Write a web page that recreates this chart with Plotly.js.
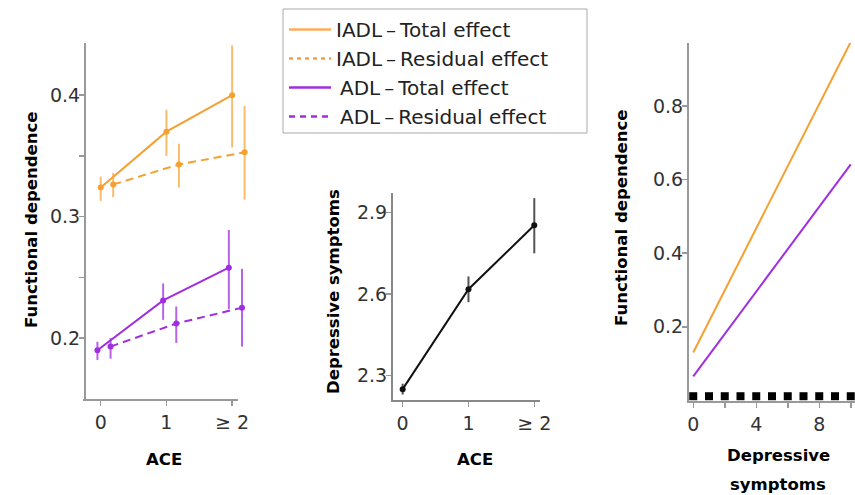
<!DOCTYPE html>
<html>
<head>
<meta charset="utf-8">
<script src="https://cdn.plot.ly/plotly-3.0.1.min.js"></script>
<style>html,body{margin:0;padding:0;background:#fff;}#chart{width:855px;height:495px;}</style>
</head>
<body>
<div id="chart"></div>
<script>
// ---------- DATA ----------
const aceLevels = [0, 1, 2];
const aceLabels = ["0", "1", "\u2265 2"];

const iadlTotal   = [0.324, 0.370, 0.400];
const iadlTotalLo = [0.313, 0.350, 0.357];
const iadlTotalHi = [0.333, 0.388, 0.441];

const iadlResid   = [0.3265, 0.343, 0.353];
const iadlResidLo = [0.316, 0.324, 0.314];
const iadlResidHi = [0.336, 0.360, 0.391];

const adlTotal    = [0.190, 0.231, 0.258];
const adlTotalLo  = [0.182, 0.215, 0.224];
const adlTotalHi  = [0.197, 0.245, 0.289];

const adlResid    = [0.193, 0.212, 0.225];
const adlResidLo  = [0.183, 0.196, 0.193];
const adlResidHi  = [0.200, 0.226, 0.257];

const depSym   = [2.25, 2.618, 2.853];
const depSymLo = [2.23, 2.57, 2.75];
const depSymHi = [2.27, 2.665, 2.953];

const depX       = [0, 10];
const iadlFit    = [0.13, 0.975];
const adlFit     = [0.065, 0.642];
const rugScores  = [0, 1, 2, 3, 4, 5, 6, 7, 8, 9, 10];

const seriesNames = ["IADL\u2009\u2013\u2009Total effect", "IADL\u2009\u2013\u2009Residual effect",
                     "\u2009ADL\u2009\u2013\u2009Total effect", "\u2009ADL\u2009\u2013\u2009Residual effect"];

// ---------- STYLE ----------
const ORANGE = '#F5A030', ORANGE_E = 'rgba(246,165,60,0.75)';
const PURPLE = '#A02EE0', PURPLE_E = 'rgba(160,46,224,0.75)';
const DASH = '8px,5px';
const dodge = {iadlTotal: 0, iadlResid: 0.19, adlTotal: -0.05, adlResid: 0.15};
const W = 855, H = 495;
const px = v => v / W, py = v => 1 - v / H;
const FONT = 'DejaVu Sans, sans-serif';

function errTrace(name, dx, val, lo, hi, color, ecolor, dash, xa, ya) {
  return {
    type: 'scatter', mode: 'lines+markers', name: name, showlegend: false,
    x: aceLevels.map(v => v + dx), y: val,
    xaxis: xa, yaxis: ya,
    line: {color: color, width: 2, dash: dash},
    marker: {color: color, size: 6},
    error_y: {type: 'data', symmetric: false,
      array: hi.map((h, i) => h - val[i]), arrayminus: val.map((v, i) => v - lo[i]),
      color: ecolor, thickness: 2, width: 0}
  };
}
function legendTrace(name, color, dash) {
  return {type: 'scatter', mode: 'lines', name: name, x: [null], y: [null], xaxis: 'x', yaxis: 'y',
    showlegend: true, line: {color: color, width: 2.5, dash: dash}};
}

const traces = [
  errTrace(seriesNames[0], dodge.iadlTotal, iadlTotal, iadlTotalLo, iadlTotalHi, ORANGE, ORANGE_E, 'solid', 'x', 'y'),
  errTrace(seriesNames[1], dodge.iadlResid, iadlResid, iadlResidLo, iadlResidHi, ORANGE, ORANGE_E, DASH, 'x', 'y'),
  errTrace(seriesNames[2], dodge.adlTotal, adlTotal, adlTotalLo, adlTotalHi, PURPLE, PURPLE_E, 'solid', 'x', 'y'),
  errTrace(seriesNames[3], dodge.adlResid, adlResid, adlResidLo, adlResidHi, PURPLE, PURPLE_E, DASH, 'x', 'y'),
  errTrace('Depressive symptoms', 0, depSym, depSymLo, depSymHi, '#111', 'rgba(40,40,40,0.8)', 'solid', 'x2', 'y2'),
  {type: 'scatter', mode: 'lines', x: depX, y: iadlFit, xaxis: 'x3', yaxis: 'y3', showlegend: false,
   name: 'IADL', line: {color: ORANGE, width: 2}},
  {type: 'scatter', mode: 'lines', x: depX, y: adlFit, xaxis: 'x3', yaxis: 'y3', showlegend: false,
   name: 'ADL', line: {color: PURPLE, width: 2}},
  {type: 'scatter', mode: 'markers', x: rugScores, y: rugScores.map(() => 0.011), xaxis: 'x3', yaxis: 'y3',
   showlegend: false, name: 'rug', marker: {symbol: 'square', color: '#000', size: 8}},
  legendTrace(seriesNames[0], '#FDAE5A', 'solid'),
  legendTrace(seriesNames[1], '#F0A040', '4px,4px'),
  legendTrace(seriesNames[2], PURPLE, 'solid'),
  legendTrace(seriesNames[3], PURPLE, '6px,5px')
];

const tickFont = {family: FONT, size: 19, color: '#333'};
const AX = '#999';
const baseY = {showgrid: false, zeroline: false, showline: true, linecolor: AX, linewidth: 2,
  ticks: 'outside', ticklen: 5, tickwidth: 1.5, tickcolor: AX, tickfont: tickFont, ticklabelstandoff: -5};
const baseX = Object.assign({}, baseY, {ticklabelstandoff: 0});

const titleFont = {family: FONT, size: 16.5, color: '#000', weight: 'bold'};
function title(text, x, y, vertical) {
  return {text: text, xref: 'paper', yref: 'paper', x: px(x), y: py(y), xanchor: 'center', yanchor: 'middle',
    textangle: vertical ? -90 : 0, showarrow: false, font: titleFont};
}

const layout = {
  width: W, height: H, margin: {l: 0, r: 0, t: 0, b: 0},
  paper_bgcolor: '#fff', plot_bgcolor: 'rgba(0,0,0,0)',
  showlegend: true,
  legend: {x: px(284), y: py(10), xanchor: 'left', yanchor: 'top', itemwidth: 42,
    borderwidth: 0, bgcolor: 'rgba(0,0,0,0)', tracegroupgap: 0,
    font: {family: FONT, size: 20, color: '#222'}},
  xaxis: Object.assign({}, baseX, {domain: [px(86), px(250)], range: [-0.224, 2.272], anchor: 'y',
    showline: false, tickvals: aceLevels, ticktext: aceLabels}),
  yaxis: Object.assign({}, baseY, {domain: [py(400), py(43)], range: [0.149, 0.443], anchor: 'x',
    tickvals: [0.2, 0.3, 0.4], ticktext: ['0.2', '0.3', '0.4'],
    minor: {tickvals: [0.25, 0.35], ticks: 'outside', ticklen: 5, tickcolor: AX}}),
  xaxis2: Object.assign({}, baseX, {domain: [px(393), px(540)], range: [-0.147, 2.087], anchor: 'y2',
    tickvals: aceLevels, ticktext: aceLabels, linecolor: '#888'}),
  yaxis2: Object.assign({}, baseY, {domain: [py(400), py(193)], range: [2.21, 2.972], anchor: 'x2',
    tickvals: [2.3, 2.6, 2.9], ticktext: ['2.3', '2.6', '2.9'], linecolor: '#888'}),
  xaxis3: Object.assign({}, baseX, {domain: [px(689), 1], range: [-0.27, 10.27], anchor: 'y3',
    tickvals: [0, 4, 8], ticktext: ['0', '4', '8'],
    minor: {tickvals: [2, 6, 10], ticks: 'outside', ticklen: 5, tickcolor: AX}}),
  yaxis3: Object.assign({}, baseY, {domain: [py(401), py(43)], range: [-0.002, 0.972], anchor: 'x3',
    tickvals: [0.2, 0.4, 0.6, 0.8], ticktext: ['0.2', '0.4', '0.6', '0.8']}),
  shapes: [
    {type: 'line', xref: 'paper', yref: 'paper', x0: px(83), x1: px(238), y0: py(400), y1: py(400),
     line: {color: AX, width: 2}},
    {type: 'rect', xref: 'paper', yref: 'paper', x0: px(283), x1: px(587), y0: py(133), y1: py(9),
     line: {color: '#aaa', width: 1}, fillcolor: '#fff', layer: 'above'}
  ],
  annotations: [
    title('Functional dependence', 31, 220, true),
    title('ACE', 164, 459, false),
    title('Depressive symptoms', 333, 292, true),
    title('ACE', 475, 459, false),
    title('Functional dependence', 622, 218, true),
    title('Depressive', 778, 455, false),
    title('symptoms', 778, 484, false)
  ]
};

Plotly.newPlot('chart', traces, layout, {displayModeBar: false, staticPlot: true});
</script>
</body>
</html>
